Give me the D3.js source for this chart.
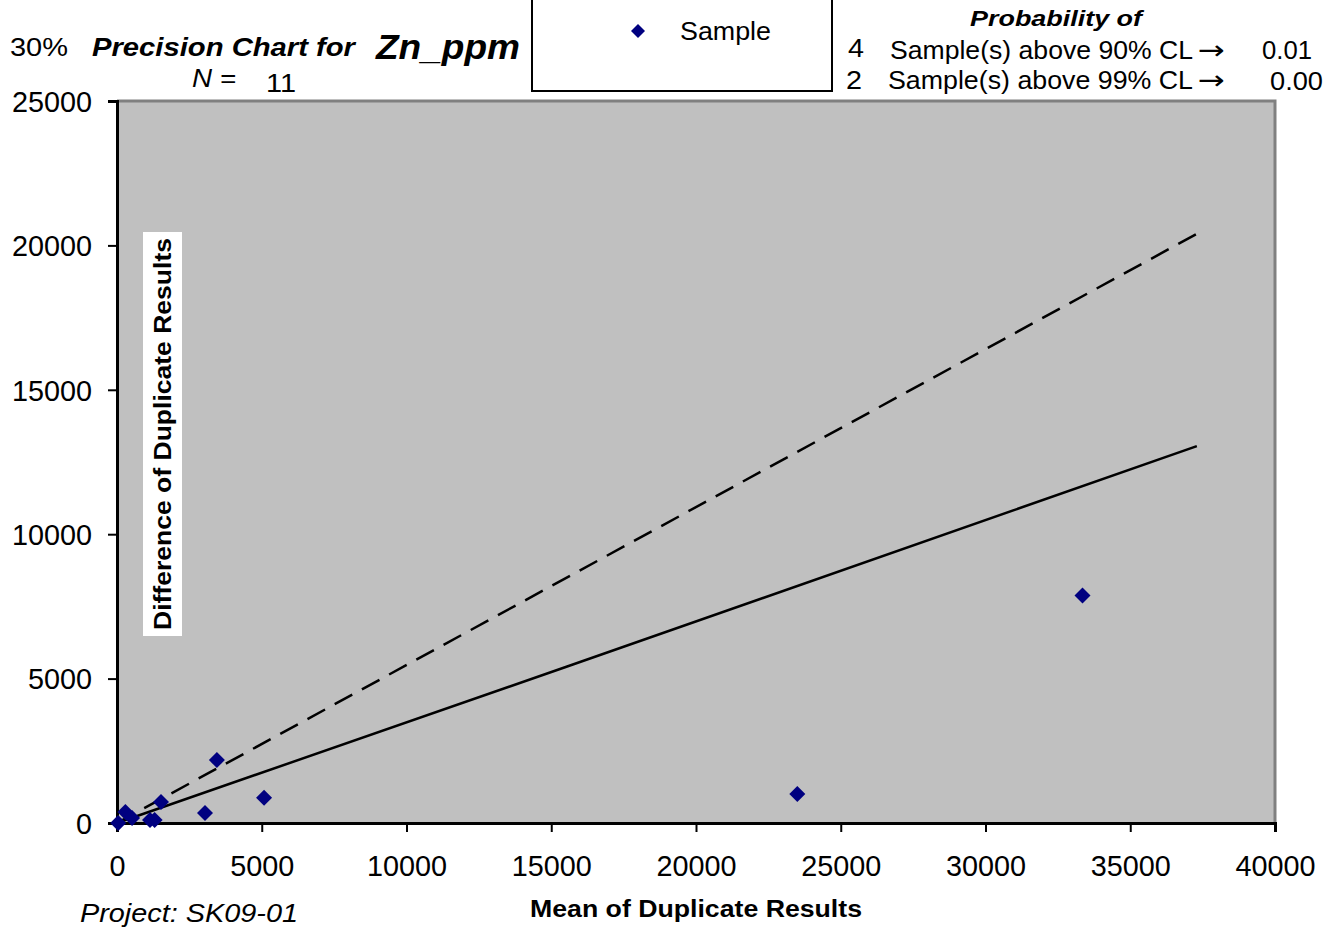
<!DOCTYPE html>
<html>
<head>
<meta charset="utf-8">
<script src="https://cdn.jsdelivr.net/npm/d3@7"></script>
<style>
  body { margin: 0; background: #fff; }
  text { font-family: "Liberation Sans", Arial, sans-serif; }
</style>
</head>
<body>
<div id="chart"></div>
<script>
// data
const meanValues = [33350, 23500, 5080, 3450, 3040, 1520, 1140, 1300, 290, 520, 40];
const diffValues = [7880, 1000, 870, 2180, 350, 730, 100, 100, 380, 170, 0];
const limit90 = [[0, 0], [37300, 20400]];
const limit99 = [[0, 0], [15500, 5400], [37300, 13050]];
const xTicks = [0, 5000, 10000, 15000, 20000, 25000, 30000, 35000, 40000];
const yTicks = [0, 5000, 10000, 15000, 20000, 25000];

const margin = { top: 101, left: 117, bottom: 106, right: 60 };
const fullWidth = 1335, fullHeight = 929;
const width = fullWidth - margin.left - margin.right;
const height = fullHeight - margin.top - margin.bottom;

const svg = d3.select("#chart").append("svg")
    .attr("width", fullWidth)
    .attr("height", fullHeight);

const g = svg.append("g")
    .attr("transform", `translate(${margin.left}, ${margin.top})`);

const x = d3.scaleLinear().domain([0, 40000]).range([0, width]);
const y = d3.scaleLinear().domain([0, 25000]).range([height, 0]);

// plot area
g.append("rect")
    .attr("width", width)
    .attr("height", height)
    .style("fill", "#c0c0c0");
g.append("path")
    .attr("d", `M0,0H${width}V${height}`)
    .style("fill", "none")
    .style("stroke", "#808080")
    .style("stroke-width", 3);

// axes
const xAxis = d3.axisBottom(x).tickValues(xTicks).tickSize(9).tickPadding(24).tickFormat(d3.format("d"));
const yAxis = d3.axisLeft(y).tickValues(yTicks).tickSize(9).tickPadding(16).tickFormat(d3.format("d"));

const gx = g.append("g").attr("transform", `translate(0, ${height})`).call(xAxis);
const gy = g.append("g").call(yAxis);
[gx, gy].forEach(a => {
    a.select(".domain").style("stroke", "#000").style("stroke-width", 3);
    a.selectAll(".tick line").style("stroke", "#000").style("stroke-width", 2);
    a.selectAll(".tick text")
        .style("font-family", "'Liberation Sans', Arial, sans-serif")
        .style("font-size", "28.8px")
        .style("fill", "#000");
});
gy.selectAll(".tick text").attr("dy", "0.36em");

// y title with white box
const yTitle = g.append("g").attr("transform", `translate(${162 - margin.left}, ${434 - margin.top})`);
yTitle.append("rect")
    .attr("x", -19).attr("y", -202)
    .attr("width", 39).attr("height", 404)
    .style("fill", "#fff");
yTitle.append("text")
    .attr("transform", "rotate(-90)")
    .attr("text-anchor", "middle")
    .attr("dy", "0.36em")
    .attr("textLength", 392)
    .attr("lengthAdjust", "spacingAndGlyphs")
    .style("font-size", "24px")
    .style("font-weight", "bold")
    .text("Difference of Duplicate Results");

// limit lines
const line = d3.line().x(d => x(d[0])).y(d => y(d[1]));
g.append("path")
    .datum(limit90)
    .attr("d", line)
    .style("fill", "none")
    .style("stroke", "#000")
    .style("stroke-width", 2.5)
    .style("stroke-dasharray", "20,11");
g.append("path")
    .datum(limit99)
    .attr("d", line)
    .style("fill", "none")
    .style("stroke", "#000")
    .style("stroke-width", 2.5);

// samples
const diamond = "M0,-8L8,0L0,8L-8,0Z";
g.selectAll(".pt")
    .data(meanValues.map((m, i) => [m, diffValues[i]]))
    .join("path")
    .attr("class", "pt")
    .attr("d", diamond)
    .attr("transform", d => `translate(${x(d[0])}, ${y(d[1])})`)
    .style("fill", "#000080");

// header
function txt(xp, yp, s, size, opts = {}) {
    const t = svg.append("text")
        .attr("x", xp).attr("y", yp)
        .style("font-size", size + "px")
        .style("font-weight", opts.bold ? "bold" : "normal")
        .style("font-style", opts.italic ? "italic" : "normal")
        .attr("text-anchor", opts.anchor || "start")
        .text(s);
    if (opts.len) t.attr("textLength", opts.len).attr("lengthAdjust", "spacingAndGlyphs");
    return t;
}

txt(10, 56, "30%", 25, { len: 58 });
txt(92, 56, "Precision Chart for", 25, { bold: true, italic: true, len: 263 });
txt(376, 59, "Zn_ppm", 35, { bold: true, italic: true, len: 144 });
txt(192, 87, "N =", 25, { italic: true, len: 44 });
txt(266, 92, "11", 26, { len: 30 });

// legend box
svg.append("path")
    .attr("d", "M532,-2V91H832V-2")
    .style("fill", "#fff")
    .style("stroke", "#000")
    .style("stroke-width", 2);
svg.append("path")
    .attr("d", "M0,-7L7,0L0,7L-7,0Z")
    .attr("transform", "translate(638, 31)")
    .style("fill", "#000080");
txt(680, 40, "Sample", 25, { len: 91 });

txt(1056, 26, "Probability of", 22, { bold: true, italic: true, anchor: "middle", len: 172 });
txt(848, 57, "4", 26, { len: 16 });
txt(890, 59, "Sample(s) above 90% CL", 26, { len: 303 });
txt(1198, 59, "\u2192", 26, { len: 27 }).style("font-family", "'DejaVu Sans', sans-serif");
txt(1262, 59, "0.01", 26, { len: 50 });
txt(846, 89, "2", 26, { len: 16 });
txt(888, 89, "Sample(s) above 99% CL", 26, { len: 305 });
txt(1198, 89, "\u2192", 26, { len: 27 }).style("font-family", "'DejaVu Sans', sans-serif");
txt(1270, 90, "0.00", 26, { len: 53 });

// footer
txt(80, 922, "Project: SK09-01", 25, { italic: true, len: 218 });
txt(530, 917, "Mean of Duplicate Results", 23, { bold: true, len: 332 });
</script>
</body>
</html>
